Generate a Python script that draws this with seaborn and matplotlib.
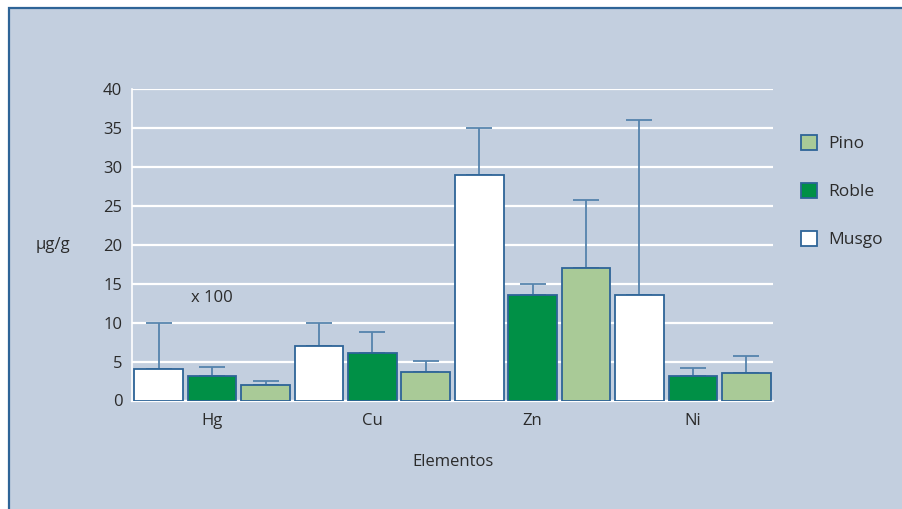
import matplotlib
matplotlib.use("Agg")
import matplotlib.pyplot as plt
from matplotlib.patches import Patch, Rectangle
import numpy as np
import pandas as pd
import seaborn as sns

# Concentrations per element and sampled species (Hg values scaled x 100)
elementos = ["Hg", "Cu", "Zn", "Ni"]
especies = ["Musgo", "Roble", "Pino"]
musgo = [4.0, 7.0, 29.0, 13.5]
roble = [3.1, 6.1, 13.5, 3.2]
pino = [2.0, 3.6, 17.0, 3.5]
# Upper end of the error bars
musgo_sup = [10.0, 10.0, 35.0, 36.0]
roble_sup = [4.3, 8.8, 15.0, 4.2]
pino_sup = [2.5, 5.1, 25.7, 5.7]
yticks = [0, 5, 10, 15, 20, 25, 30, 35, 40]

valores = {"Musgo": musgo, "Roble": roble, "Pino": pino}
superiores = {"Musgo": musgo_sup, "Roble": roble_sup, "Pino": pino_sup}

df = pd.DataFrame(
    [(el, esp, valores[esp][i]) for esp in especies for i, el in enumerate(elementos)],
    columns=["Elemento", "Especie", "valor"],
)

FONDO = "#C3CFDF"
BORDE = "#2E6497"
ERR = "#5583AD"
TEXTO = "#2B2B2B"
colores = {"Musgo": "#FFFFFF", "Roble": "#009046", "Pino": "#A9CA97"}

sns.set_theme(style="white")
plt.rcParams["font.family"] = ["Open Sans", "DejaVu Sans"]

fig = plt.figure(figsize=(9.03, 5.09), dpi=100)
fig.patch.set_facecolor("white")
# panel with a blue rule on the top and left edges
fig.patches.append(Rectangle((8.5 / 903, -0.01), 1.0, 1.01 - 7.5 / 509,
                             transform=fig.transFigure, facecolor=FONDO,
                             edgecolor=BORDE, linewidth=1.6, zorder=-5))

ax = fig.add_axes([132 / 903, (509 - 400.5) / 509, 641 / 903, 311.5 / 509])
ax.set_facecolor("none")

sns.barplot(data=df, x="Elemento", y="valor", hue="Especie",
            order=elementos, hue_order=especies, palette=colores,
            saturation=1, width=1.0, gap=0.09, edgecolor=BORDE, linewidth=1.3,
            errorbar=None, legend=False, ax=ax, zorder=3)

# one-sided error bars from each bar top
for esp, cont in zip(especies, ax.containers):
    xs = [r.get_x() + r.get_width() / 2 for r in cont]
    ys = [r.get_height() for r in cont]
    up = [s - y for s, y in zip(superiores[esp], ys)]
    ax.errorbar(xs, ys, yerr=[np.zeros(len(ys)), up], fmt="none",
                ecolor=ERR, elinewidth=1.3, capsize=9.7, capthick=1.3,
                zorder=2.5)

ax.set_xlim(-0.5, 3.5)
ax.set_ylim(0, 40)
ax.set_yticks(yticks)
ax.set_yticklabels([str(t) for t in yticks])
ax.yaxis.grid(True, color="white", linewidth=1.6)
ax.set_axisbelow(True)

for s in ["top", "right"]:
    ax.spines[s].set_visible(False)
ax.spines["left"].set_color("white")
ax.spines["left"].set_linewidth(1.2)
ax.spines["bottom"].set_color("white")
ax.spines["bottom"].set_linewidth(1.6)

ax.set_xticks(range(len(elementos)))
ax.set_xticklabels(elementos)
ax.set_xticks(np.arange(-0.5, 3.51, 1 / 3), minor=True)
ax.tick_params(axis="x", which="major", length=0, pad=9, labelsize=12, labelcolor=TEXTO)
ax.tick_params(axis="x", which="minor", length=3, width=1.2, color="white", direction="out")
ax.tick_params(axis="y", length=0, pad=7, labelsize=12, labelcolor=TEXTO)

ax.set_xlabel("Elementos", fontsize=12, color=TEXTO, labelpad=18)
ax.set_ylabel("µg/g", fontsize=12, color=TEXTO, rotation=0, ha="center", va="center")
ax.yaxis.set_label_coords(-0.124, 0.5)

ax.text(0, 13.2, "x 100", ha="center", va="center", fontsize=12, color=TEXTO)

handles = [Patch(facecolor=colores[e], edgecolor=BORDE, linewidth=1.3) for e in especies[::-1]]
fig.legend(handles, especies[::-1], loc="upper left",
           bbox_to_anchor=(801 / 903, 1 - 135 / 509), frameon=False,
           fontsize=12.5, labelcolor=TEXTO, handlelength=0.95, handleheight=0.95,
           handletextpad=0.6, labelspacing=1.75, borderpad=0, borderaxespad=0)

fig.savefig("out.png", dpi=100, facecolor=fig.get_facecolor())
